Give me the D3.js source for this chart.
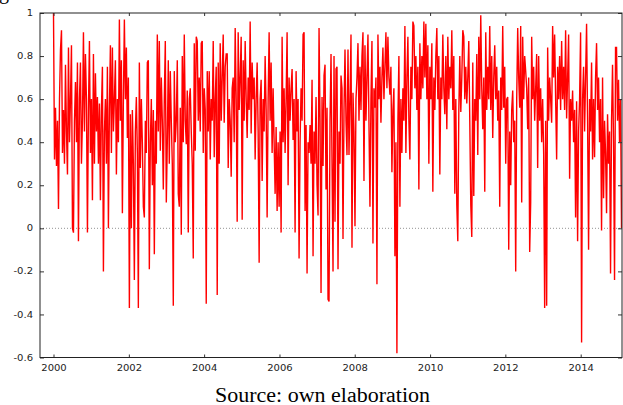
<!DOCTYPE html>
<html>
<head>
<meta charset="utf-8">
<script src="https://cdn.jsdelivr.net/npm/d3@7"></script>
<style>
  body { margin: 0; background: #fff; }
  svg { display: block; }
  .axis text { font-family: "DejaVu Sans", sans-serif; font-size: 8px; fill: #222; }
  .axis line { stroke: #333; }
  .caption { font-family: "Liberation Serif", "Times New Roman", serif; font-size: 20px; fill: #000; }
</style>
</head>
<body>
<svg id="chart" width="623" height="405"></svg>
<script>
// tick labels
const yTicks = [-0.6, -0.4, -0.2, 0, 0.2, 0.4, 0.6, 0.8, 1];
const xTickYears = [2000, 2002, 2004, 2006, 2008, 2010, 2012, 2014];

// series runs evenly from startDate to endDate
const startDate = new Date(2000, 0, 1);
const endDate = new Date(2015, 1, 1);

// values, left to right
const values2000 = [
  1.0, 0.32, 0.56, 0.29, 0.5, 0.09, 0.6, 0.83, 0.92, 0.35,
  0.55, 0.3, 0.76, 0.45, 0.25, 0.84, 0.4, 0.6, 0.85, 0.0,
  -0.02, 0.5, 0.68, 0.4, 0.77, -0.06, 0.6, 0.77, 0.3, 0.5,
  0.91, 0.45, 0.81, 0.6, -0.02, 0.55, 0.87, 0.35, 0.6, 0.13,
  0.81, 0.3, 0.72, 0.45, 0.61, 0.3, 0.58, 0.13, 0.55, 0.75,
  -0.2, 0.45, 0.6, 0.3, 0.75, 0.0, 0.55, 0.85, 0.35, 0.84,
  0.45, 0.6, 0.78, 0.25, 0.6, 0.4, 0.97, 0.5, 0.78, 0.07,
  0.6, 0.97, 0.6, 0.84, 0.42, 0.7, -0.37, 0.53, 0.0, 0.55,
  0.3, -0.24, 0.45, 0.61, 0.35, -0.37, 0.77, 0.28, 0.6, 0.4,
  0.1, 0.05, 0.5, 0.35, 0.77, 0.78, -0.19, 0.4, 0.6, 0.2,
  0.55, -0.12, 0.5, 0.3, 0.9, 0.45, 0.87, 0.36, 0.7, 0.5,
  0.18, 0.6, 0.87, 0.12, 0.4, 0.78, 0.3, 0.73, 0.5, 0.3,
  -0.36, 0.73, 0.4, 0.5, 0.78, 0.16, 0.1
];
const values2003 = [
  0.56, -0.03, 0.8, 0.4, 0.9, 0.5, 0.39, 0.64, -0.02, 0.6,
  0.65, 0.45, 0.3, -0.14, 0.86, 0.36, 0.89, 0.87, 0.5, 0.7,
  0.45, 0.86, 0.87, 0.35, 0.65, 0.55, -0.35, 0.73, 0.45, 0.73,
  0.32, 0.6, 0.5, 0.87, 0.33, 0.6, 0.75, -0.31, 0.77, 0.3,
  0.86, 0.5, 0.7, 0.9, 0.49, 0.75, 0.81, 0.81, 0.28, 0.6,
  0.5, 0.24, 0.65, 0.7, 0.4, 0.93, 0.6, 0.03, 0.91, 0.55,
  0.7, 0.89, 0.04, 0.78, 0.5, 0.87, 0.6, 0.42, 0.7, 0.55,
  0.96, 0.44, 0.77, 0.6, 0.7, 0.32, 0.6, 0.77, 0.45, -0.16,
  0.6, 0.69, 0.22, 0.6, 0.45, 0.8, 0.55, 0.05, 0.6, 0.91,
  0.5, 0.77, 0.35, 0.65, 0.4, 0.16, 0.47, 0.08, 0.4, 0.1,
  0.45, -0.02, 0.89, 0.4, 0.65, 0.35, 0.6, 0.91, 0.2, 0.7,
  0.5, 0.65, 0.74, 0.41, 0.6, -0.02, 0.73, 0.45, 0.6, -0.14,
  0.4, 0.65, 0.5, 0.9, 0.91, 0.08, 0.48, -0.21, 0.4, 0.35,
  0.48, 0.3, 0.69, -0.13, 0.45, 0.3, 0.61, 0.2, 0.06, 0.93
];
const values2007 = [
  0.5, -0.30, 0.61, 0.29, 0.71, 0.76, 0.18, 0.56, -0.33, -0.34,
  0.5, 0.81, 0.3, -0.2, 0.8, 0.03, 0.74, 0.75, -0.19, 0.45,
  0.3, 0.71, 0.65, -0.05, 0.55, 0.83, 0.5, 0.34, 0.83, 0.34,
  0.6, 0.9, -0.09, 0.63, 0.45, 0.01, 0.6, 0.7, 0.86, 0.5,
  0.75, 0.55, 0.8, 0.91, 0.22, 0.85, 0.5, 0.7, 0.9, 0.49,
  0.1, 0.6, 0.87, -0.07, 0.65, 0.56, 0.7, -0.26, 0.9, 0.6,
  0.75, 0.49, 0.7, 0.84, 0.6, 0.75, 0.91, 0.65, 0.89, 0.7,
  0.62, 0.75, 0.26, 0.55, 0.65, -0.13, 0.4, -0.58, 0.5, 0.8,
  0.1, 0.6, 0.35, 0.65, 0.5, 0.94, 0.35, 0.7, 0.89, 0.5,
  0.32, 0.75, 0.6, 0.96, 0.94, 0.65, 0.8, 0.55, 0.75, 0.18,
  0.86, 0.6, 0.8, 0.65, 0.96, 0.7, 0.95, 0.6, 0.85, 0.3,
  0.75, 0.6, 0.86, 0.17, 0.7, 0.55, 0.8, 0.93, 0.6, 0.8,
  0.25, 0.7, 0.6, 0.9, 0.65, 0.53, 0.8, 0.46, 0.89, 0.6,
  0.75, 0.65, 0.92, 0.55, 0.8, 0.16, 0.6, 0.11, -0.06, 0.54
];
const values2011 = [
  0.8, 0.54, 0.7, 0.92, 0.89, 0.6, 0.75, 0.58, 0.7, 0.87,
  0.5, 0.11, -0.04, 0.77, 0.15, 0.6, 0.5, 0.81, 0.34, 0.89,
  0.6, 0.99, 0.65, 0.46, 0.7, 0.17, 0.91, 0.55, 0.75, 0.6,
  0.94, 0.55, 0.8, 0.42, 0.7, 0.85, 0.6, 0.75, 0.5, 0.64,
  0.1, 0.7, 0.55, 0.94, 0.56, 0.75, 0.3, 0.6, 0.61, -0.1,
  0.45, 0.2, 0.55, 0.64, 0.4, 0.5, -0.2, 0.6, 0.93, 0.7,
  0.56, 0.94, 0.12, 0.89, 0.6, 0.8, 0.73, 0.65, 0.46, 0.7,
  -0.11, 0.12, 0.89, 0.6, 0.75, 0.5, 0.65, 0.81, 0.28, 0.8,
  0.5, 0.65, 0.4, 0.6, 0.35, -0.37, 0.5, -0.36, 0.84, 0.5,
  0.7, 0.6, 0.49, 0.94, 0.7, 0.9, 0.6, 0.32, 0.75, 0.6,
  0.8, 0.55, 0.87, 0.6, 0.75, 0.55, 0.92, 0.51, 0.7, 0.9,
  0.23, 0.6, 0.5, 0.64, 0.4, 0.55, 0.05, 0.59, -0.06, 0.45,
  0.6, 0.91, -0.53, 0.6, 0.75, 0.45, 0.7, 0.95, 0.5, -0.1,
  0.6, 0.45, 0.77, 0.32, 0.6, 0.33, 0.7, 0.86, 0.55, 0.7,
  0.4, 0.6, -0.01, 0.7, 0.14, 0.5, 0.35, 0.07, 0.53, 0.3,
  0.45, -0.21, 0.5, 0.76, 0.4, -0.24, 0.84, 0.84, 0.5, 0.69,
  0.4, 0.6, 0.0
];

const values = [].concat(values2000, values2003, values2007, values2011);
const step = (endDate - startDate) / (values.length - 1);
const data = values.map((v, i) => ({ date: new Date(+startDate + i * step), v }));

const svg = d3.select('#chart');
const plotL = 40, plotR = 622, plotT = 13, plotB = 357.5;

// anchor the time scale on the tick years, then widen it to the frame
const x = d3.scaleTime()
  .domain([new Date(2000, 0, 1), new Date(2014, 0, 1)])
  .range([53.5, 580.7]);
x.domain([x.invert(plotL), x.invert(plotR)]).range([plotL, plotR]);

const y = d3.scaleLinear().domain([-0.6, 1]).range([plotB, plotT]);

// zero reference
svg.append('line')
  .attr('x1', plotL).attr('x2', plotR)
  .attr('y1', y(0)).attr('y2', y(0))
  .attr('stroke', '#777').attr('stroke-width', 0.8)
  .attr('stroke-dasharray', '1,2');

svg.append('clipPath').attr('id', 'plot')
  .append('rect').attr('x', plotL).attr('y', plotT)
  .attr('width', plotR - plotL).attr('height', plotB - plotT);

svg.append('path')
  .datum(data)
  .attr('clip-path', 'url(#plot)')
  .attr('fill', 'none')
  .attr('stroke', '#ff0000')
  .attr('stroke-width', 1.4)
  .attr('d', d3.line().x(d => x(d.date)).y(d => y(d.v)));

const yearDates = xTickYears.map(yr => new Date(yr, 0, 1));

// the source figure was stretched sideways, so widen the glyphs a bit
function widen(sel, k) {
  sel.selectAll('text').each(function () {
    const w = this.getComputedTextLength();
    if (w > 0) d3.select(this).attr('textLength', w * k).attr('lengthAdjust', 'spacingAndGlyphs');
  });
}

svg.append('g').attr('class', 'axis')
  .attr('transform', `translate(0,${plotB})`)
  .call(d3.axisBottom(x).tickValues(yearDates).tickSize(-3).tickPadding(8)
    .tickFormat(d3.timeFormat('%Y')))
  .call(g => g.select('.domain').remove())
  .call(g => widen(g, 1.25));

svg.append('g').attr('class', 'axis')
  .attr('transform', `translate(0,${plotT})`)
  .call(d3.axisTop(x).tickValues(yearDates).tickSize(-3).tickFormat(''))
  .call(g => g.select('.domain').remove());

svg.append('g').attr('class', 'axis')
  .attr('transform', `translate(${plotL},0)`)
  .call(d3.axisLeft(y).tickValues(yTicks).tickSize(-4).tickPadding(7)
    .tickFormat(d => String(d)))
  .call(g => g.select('.domain').remove())
  .call(g => widen(g, 1.25));

svg.append('g').attr('class', 'axis')
  .attr('transform', `translate(${plotR},0)`)
  .call(d3.axisRight(y).tickValues(yTicks).tickSize(-4).tickFormat(''))
  .call(g => g.select('.domain').remove());

// frame
svg.append('rect')
  .attr('x', plotL).attr('y', plotT)
  .attr('width', plotR - plotL).attr('height', plotB - plotT)
  .attr('fill', 'none').attr('stroke', '#222').attr('stroke-width', 1);

// tail of the heading above, cut off at the top edge
svg.append('text').attr('class', 'caption')
  .attr('x', -1).attr('y', -1).text('g');

svg.append('text').attr('class', 'caption')
  .attr('x', 322.5).attr('y', 401.5).attr('text-anchor', 'middle')
  .text('Source: own elaboration')
  .call(t => t.attr('textLength', t.node().getComputedTextLength() * 1.1)
    .attr('lengthAdjust', 'spacingAndGlyphs'));
</script>
</body>
</html>
